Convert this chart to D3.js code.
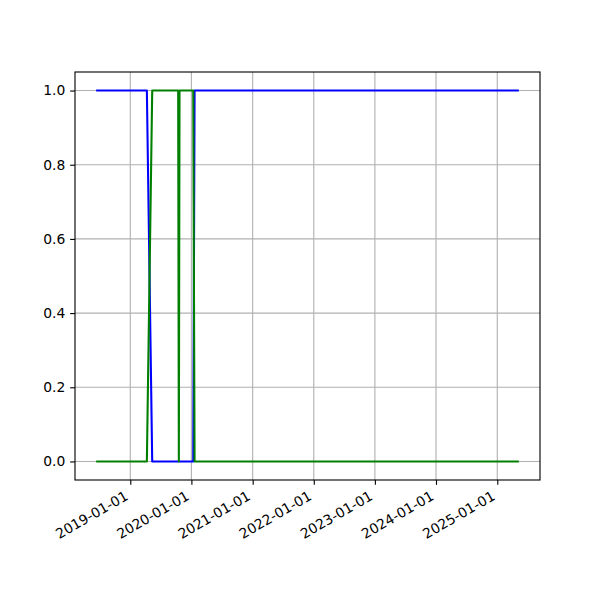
<!DOCTYPE html>
<html>
<head>
<meta charset="utf-8">
<script src="https://cdn.jsdelivr.net/npm/d3@7"></script>
<style>
  html, body { margin: 0; padding: 0; background: #fff; }
  svg { display: block; }
  text { font-family: "DejaVu Sans", sans-serif; }
</style>
</head>
<body>
<svg id="chart" width="600" height="600"></svg>
<script>
// ---- data ----
const dates = ["2018-06-11", "2019-04-10", "2019-05-12", "2019-10-14", "2019-10-18", "2019-10-22", "2020-01-12", "2020-01-20", "2025-05-10"];
const blueValues  = [1, 1, 0, 0, 0, 0, 0, 1, 1];
const greenValues = [0, 0, 1, 1, 0, 1, 1, 0, 0];
const xTickLabels = ["2019-01-01", "2020-01-01", "2021-01-01", "2022-01-01", "2023-01-01", "2024-01-01", "2025-01-01"];
const yTickValues = [0.0, 0.2, 0.4, 0.6, 0.8, 1.0];

// ---- layout ----
const mL = 75, mR = 540, mT = 72, mB = 480;
const pt = 100 / 72;
const parse = d3.utcParse("%Y-%m-%d");
const dts = dates.map(parse);

const ext = d3.extent(dts);
const span = ext[1] - ext[0];
const x = d3.scaleUtc()
  .domain([new Date(+ext[0] - 0.05 * span), new Date(+ext[1] + 0.05 * span)])
  .range([mL, mR]);
const y = d3.scaleLinear().domain([-0.05, 1.05]).range([mB, mT]);

const svg = d3.select("#chart");
const fontSize = 10 * pt;
const tickLen = 3.5 * pt, tickPad = 3.5 * pt;
const xTicks = xTickLabels.map(parse);

// grid
const grid = svg.append("g");
grid.selectAll("line.gx").data(xTicks).join("line")
  .attr("x1", d => x(d)).attr("x2", d => x(d))
  .attr("y1", mT).attr("y2", mB)
  .attr("stroke", "#b0b0b0").attr("stroke-width", 0.8 * pt);
grid.selectAll("line.gy").data(yTickValues).join("line")
  .attr("x1", mL).attr("x2", mR)
  .attr("y1", d => y(d)).attr("y2", d => y(d))
  .attr("stroke", "#b0b0b0").attr("stroke-width", 0.8 * pt);

// lines
const line = vals => d3.line().x((d, i) => x(dts[i])).y(d => y(d))(vals);
svg.append("path").attr("d", line(blueValues))
  .attr("fill", "none").attr("stroke", "#0000ff").attr("stroke-width", 1.5 * pt)
  .attr("stroke-linejoin", "round").attr("stroke-linecap", "butt");
svg.append("path").attr("d", line(greenValues))
  .attr("fill", "none").attr("stroke", "#008000").attr("stroke-width", 1.5 * pt)
  .attr("stroke-linejoin", "round").attr("stroke-linecap", "butt");

// axes
const xAxis = d3.axisBottom(x).tickValues(xTicks).tickFormat(d3.utcFormat("%Y-%m-%d"))
  .tickSizeInner(tickLen).tickSizeOuter(0).tickPadding(tickPad);
const gx = svg.append("g").attr("transform", `translate(0,${mB})`).call(xAxis);
gx.select(".domain").remove();
gx.selectAll(".tick line").attr("stroke", "#000").attr("stroke-width", 0.8 * pt);
const asc = 0.76 * fontSize, desc = 0.24 * fontSize;
gx.selectAll(".tick text")
  .attr("font-size", fontSize).attr("fill", "#000")
  .attr("font-family", "DejaVu Sans, sans-serif")
  .attr("text-anchor", "end")
  .attr("dy", null)
  .attr("y", null)
  .attr("transform", `translate(${-0.5 * desc},${tickLen + tickPad + 0.866 * asc}) rotate(-30)`);

const yAxis = d3.axisLeft(y).tickValues(yTickValues).tickFormat(d3.format(".1f"))
  .tickSizeInner(tickLen).tickSizeOuter(0).tickPadding(tickPad);
const gy = svg.append("g").attr("transform", `translate(${mL},0)`).call(yAxis);
gy.select(".domain").remove();
gy.selectAll(".tick line").attr("stroke", "#000").attr("stroke-width", 0.8 * pt);
gy.selectAll(".tick text").attr("font-size", fontSize).attr("fill", "#000")
  .attr("font-family", "DejaVu Sans, sans-serif");

// spines
svg.append("rect").attr("x", mL).attr("y", mT)
  .attr("width", mR - mL).attr("height", mB - mT)
  .attr("fill", "none").attr("stroke", "#000").attr("stroke-width", 0.8 * pt);
</script>
</body>
</html>
